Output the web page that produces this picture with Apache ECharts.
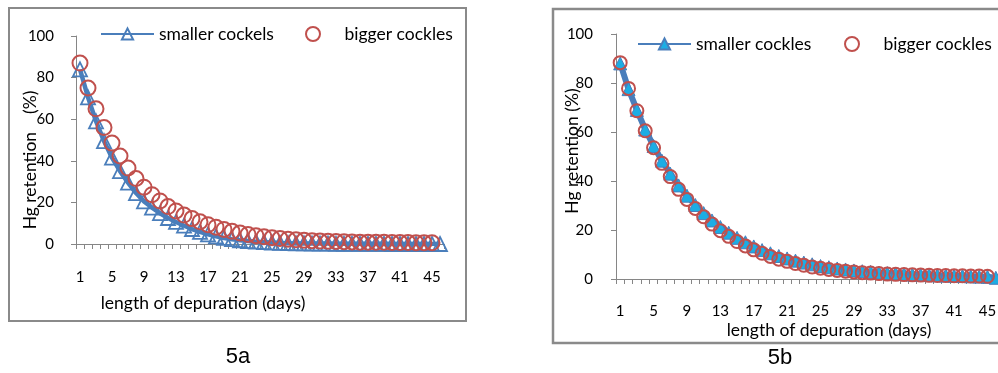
<!DOCTYPE html>
<html>
<head>
<meta charset="utf-8">
<script src="https://cdn.jsdelivr.net/npm/echarts@6/dist/echarts.min.js"></script>
<style>
  html, body { margin: 0; padding: 0; background: #fff; overflow: hidden; }
  #chart5a { position: absolute; left: 0; top: 0; width: 500px; height: 373px; }
  #chart5b { position: absolute; left: 500px; top: 0; width: 500px; height: 373px; }
</style>
</head>
<body>
<div id="chart5a"></div>
<div id="chart5b"></div>
<script>
  // days of depuration (one category per day)
  var days = [];
  for (var d = 1; d <= 46; d++) days.push(String(d));

  // 5a - Hg retention (%)
  var smallerA = [84, 70.5, 59, 49.5, 41.5, 35, 29.5, 24.5, 20.5, 17.5, 14.8, 12.5, 10.6, 8.8, 7.2, 5.8, 4.6, 3.7, 2.9, 2.3,
    1.8, 1.4, 1.1, 0.9, 0.7, 0.5, 0.4, 0.3, 0.3, 0.2, 0.2, 0.2, 0.1, 0.1, 0.1, 0.1, 0.1, 0.1, 0.1, 0, 0, 0, 0, 0, 0, 0];
  var biggerA = [87, 75, 65, 56, 48.5, 42.3, 36.5, 31.5, 27.3, 23.7, 20.7, 18, 15.9, 13.9, 12.2, 10.7, 9.3, 8.1, 7.0, 6.1,
    5.3, 4.6, 4.0, 3.5, 3.0, 2.6, 2.3, 2.0, 1.8, 1.6, 1.4, 1.3, 1.2, 1.1, 1.0, 0.9, 0.9, 0.8, 0.8, 0.7, 0.7, 0.7, 0.6, 0.6, 0.6];

  // 5b
  var smallerB = [88, 77.5, 69, 61, 54.3, 48.3, 43, 38.2, 34, 30.2, 26.9, 23.9, 21.2, 18.9, 16.8, 15, 13.3, 11.8, 10.5, 9.4,
    8.4, 7.5, 6.7, 6.0, 5.3, 4.8, 4.3, 3.9, 3.5, 3.2, 2.9, 2.6, 2.4, 2.2, 2.0, 1.8, 1.7, 1.6, 1.5, 1.4, 1.3, 1.2, 1.1, 1.0, 0.9, 0.5];
  var biggerB = [88.3, 77.8, 68.7, 60.5, 53.6, 47.2, 41.8, 36.6, 32.5, 28.8, 25.4, 22.4, 19.7, 17.4, 15.3, 13.5, 11.9, 10.5, 9.2, 8.1,
    7.2, 6.3, 5.6, 4.9, 4.4, 3.9, 3.5, 3.2, 2.9, 2.6, 2.4, 2.2, 2.0, 1.9, 1.8, 1.7, 1.6, 1.5, 1.4, 1.4, 1.3, 1.3, 1.2, 1.2, 1.1];

  var FONT = 'Lato, "Liberation Sans", sans-serif';
  var AXIS_GREY = '#868686';
  var BLUE = '#4A7EBB';
  var RED = '#C0504D';

  function axes(p) {
    return {
      xAxis: {
        type: 'category',
        data: days,
        boundaryGap: true,
        axisLine: { lineStyle: { color: AXIS_GREY, width: 1 } },
        axisTick: { show: true, interval: 0, length: 5, lineStyle: { color: AXIS_GREY } },
        axisLabel: { interval: 3, margin: p.xMargin, fontSize: 15, color: '#000', fontFamily: FONT },
        splitLine: { show: false }
      },
      yAxis: {
        type: 'value',
        min: 0,
        max: 100,
        interval: 20,
        axisLine: { show: true, lineStyle: { color: AXIS_GREY, width: 1 } },
        axisTick: { show: true, length: 5, lineStyle: { color: AXIS_GREY } },
        axisLabel: { margin: p.yMargin, fontSize: 15, color: '#000', fontFamily: FONT },
        splitLine: { show: false }
      }
    };
  }

  function legendItem(name, left, top) {
    return {
      data: [name],
      left: left,
      top: top,
      padding: 0,
      itemWidth: 53,
      itemHeight: 14,
      itemGap: 5,
      selectedMode: false,
      textStyle: { fontSize: 17.5, color: '#000', fontFamily: FONT }
    };
  }

  function titleText(text, x, y, rot) {
    return {
      type: 'text',
      x: x,
      y: y,
      rotation: rot || 0,
      style: { text: text, font: '17.5px ' + FONT, fill: '#000', textAlign: 'center', textVerticalAlign: 'middle' }
    };
  }

  // ---------- 5a ----------
  var chartA = echarts.init(document.getElementById('chart5a'));
  var axA = axes({ xMargin: 26, yMargin: 22 });
  var optionA = {
    animation: false,
    grid: { left: 76, top: 36, width: 368, height: 208 },
    xAxis: axA.xAxis,
    yAxis: axA.yAxis,
    legend: [legendItem('smaller cockels', 100, 25), legendItem('bigger cockles', 305, 25)],
    graphic: [
      { type: 'rect', shape: { x: 9, y: 8, width: 457, height: 313 }, style: { fill: 'none', stroke: '#8a8a8a', lineWidth: 2 } },
      titleText('length of depuration (days)', 203, 303),
      titleText('Hg retention    (%)', 30, 160, Math.PI / 2),
      { type: 'text', x: 238, y: 357, style: { text: '5a', font: '22px "Liberation Sans", Arial, sans-serif', fill: '#000', textAlign: 'center', textVerticalAlign: 'middle' } }
    ],
    series: [
      {
        name: 'smaller cockels',
        type: 'line',
        data: smallerA,
        symbol: 'triangle',
        symbolSize: 14,
        showAllSymbol: true,
        lineStyle: { color: BLUE, width: 4.5 },
        itemStyle: { color: 'rgba(255,255,255,0)', borderColor: BLUE, borderWidth: 1.8 },
        z: 2
      },
      {
        name: 'bigger cockles',
        type: 'scatter',
        data: biggerA,
        symbol: 'circle',
        symbolSize: 15,
        itemStyle: { color: 'rgba(255,255,255,0)', borderColor: RED, borderWidth: 2, opacity: 1 },
        z: 3
      }
    ]
  };
  chartA.setOption(optionA);

  // ---------- 5b ----------
  var chartB = echarts.init(document.getElementById('chart5b'));
  var axB = axes({ xMargin: 25, yMargin: 23 });
  var optionB = {
    animation: false,
    grid: { left: 116, top: 34, width: 384, height: 245 },
    xAxis: axB.xAxis,
    yAxis: axB.yAxis,
    legend: [legendItem('smaller cockles', 137, 35), legendItem('bigger cockles', 344, 35)],
    graphic: [
      { type: 'rect', shape: { x: 53, y: 9, width: 470, height: 334 }, style: { fill: 'none', stroke: '#8a8a8a', lineWidth: 2.5 } },
      titleText('length of depuration (days)', 329, 330),
      titleText('Hg retention (%)', 72, 151, Math.PI / 2),
      { type: 'text', x: 280, y: 358, style: { text: '5b', font: '22px "Liberation Sans", Arial, sans-serif', fill: '#000', textAlign: 'center', textVerticalAlign: 'middle' } }
    ],
    series: [
      {
        name: 'smaller cockles',
        type: 'line',
        data: smallerB,
        symbol: 'triangle',
        symbolSize: 13,
        showAllSymbol: true,
        lineStyle: { color: BLUE, width: 6 },
        itemStyle: { color: '#1CADE4', borderColor: BLUE, borderWidth: 1 },
        z: 2
      },
      {
        name: 'bigger cockles',
        type: 'scatter',
        data: biggerB,
        symbol: 'circle',
        symbolSize: 13,
        itemStyle: { color: 'rgba(255,255,255,0)', borderColor: RED, borderWidth: 2, opacity: 1 },
        z: 3
      }
    ]
  };
  chartB.setOption(optionB);
</script>
</body>
</html>
